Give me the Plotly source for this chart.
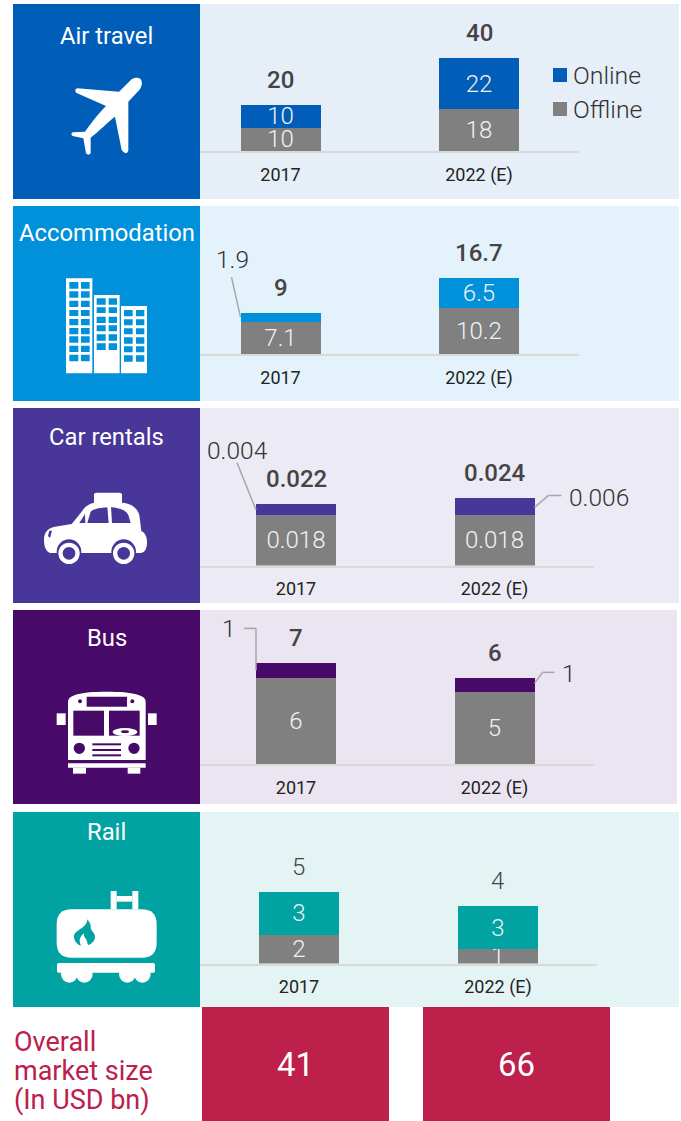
import re
import plotly.graph_objects as go

# ---------- data ----------
categories = ["2017", "2022 (E)"]
sectors = ["Air travel", "Accommodation", "Car rentals", "Bus", "Rail"]
air_online = [10, 22]
air_offline = [10, 18]
air_total = [20, 40]
acc_online = [1.9, 6.5]
acc_offline = [7.1, 10.2]
acc_total = [9, 16.7]
car_online = [0.004, 0.006]
car_offline = [0.018, 0.018]
car_total = [0.022, 0.024]
bus_online = [1, 1]
bus_offline = [6, 5]
bus_total = [7, 6]
rail_online = [3, 3]
rail_offline = [2, 1]
rail_total = [5, 4]
overall_market = [41, 66]
legend_names = ["Online", "Offline"]
overall_title = ["Overall", "market size", "(In USD bn)"]

# ---------- style / layout ----------
W, H = 681, 1121
FONT = "Roboto"
GRAY = "#808080"
TXT = "#333333"
panels = [
    dict(online=air_online, offline=air_offline, total=air_total, color="#005EB8", bg="#E6EEF7",
         top=4, bot=199, right=679, base=151, axis_end=579, c0=280.5, c1=479, ppu=93 / 40, bold=True, head=36),
    dict(online=acc_online, offline=acc_offline, total=acc_total, color="#0091DA", bg="#E3F2FB",
         top=206, bot=401, right=679, base=354, axis_end=579, c0=280.5, c1=479, ppu=76 / 16.7, bold=True, head=233),
    dict(online=car_online, offline=car_offline, total=car_total, color="#483698", bg="#ECEAF4",
         top=408, bot=603, right=679, base=565.5, axis_end=594, c0=296, c1=494.5, ppu=67.5 / 0.024, bold=True, head=437),
    dict(online=bus_online, offline=bus_offline, total=bus_total, color="#470A68", bg="#EAE5F1",
         top=610, bot=804, right=677, base=764, axis_end=594, c0=296, c1=494.5, ppu=14.4, bold=True, head=638),
    dict(online=rail_online, offline=rail_offline, total=rail_total, color="#00A3A1", bg="#E4F4F4",
         top=812, bot=1007, right=679, base=963.5, axis_end=597, c0=299, c1=498, ppu=14.4, bold=False, head=832),
]
# leader lines: (panel, category index, side, cumulative value to anchor on, pixel offsets from anchor, label offset)
leaders = [
    (1, 0, -1, acc_total[0] - 0.9, [(-9, -40), (0, 0)], (-8, -58)),
    (2, 0, -1, car_total[0] - 0.0022, [(-19, -47), (0, 0)], (-19, -59)),
    (2, 1, 1, car_total[1] - 0.003, [(0, 1), (14, -11), (27, -11)], (64, -9)),
    (3, 0, -1, bus_total[0] - 0.5, [(-12, -42), (0, -42), (0, 0)], (-27, -42)),
    (3, 1, 1, bus_total[1] - 0.4, [(0, 0), (8, -11), (20, -11)], (34, -10)),
]


def fnt(size, color, weight=400):
    return dict(family=FONT, size=size, color=color, weight=weight)


shapes, annotations, traces = [], [], []
layout = dict(
    width=W, height=H, margin=dict(l=0, r=0, t=0, b=0, pad=0), autosize=False,
    paper_bgcolor="white", plot_bgcolor="rgba(0,0,0,0)", barmode="stack", showlegend=False,
    xaxis=dict(domain=[0, 1], range=[0, W], visible=False, fixedrange=True),
    yaxis=dict(domain=[0, 1], range=[H, 0], visible=False, fixedrange=True),
)
# an invisible trace keeps the pixel canvas subplot alive beneath the charts
traces.append(go.Scatter(x=[0], y=[0], mode="none", xaxis="x", yaxis="y", hoverinfo="skip"))


def rect(x0, y0, x1, y1, color, layer="below"):
    shapes.append(dict(type="rect", xref="x", yref="y", x0=x0, y0=y0, x1=x1, y1=y1,
                       fillcolor=color, line_width=0, layer=layer))


def circ(cx, cy, r, color, ry=None):
    ry = r if ry is None else ry
    shapes.append(dict(type="circle", xref="x", yref="y", x0=cx - r, y0=cy - ry, x1=cx + r, y1=cy + ry,
                       fillcolor=color, line_width=0, layer="below"))


def path(d, ox, oy, color, evenodd=False):
    """d is written in 3x coordinates of the drawing, relative to (ox, oy)."""
    idx = [0]

    def conv(m):
        v = float(m.group(0)) / 3
        v += ox if idx[0] % 2 == 0 else oy
        idx[0] += 1
        return f"{v:.2f}"

    s = re.sub(r"-?\d+\.?\d*", conv, d)
    shapes.append(dict(type="path", xref="x", yref="y", path=s, fillcolor=color, line_width=0, layer="below",
                       fillrule="evenodd" if evenodd else "nonzero"))


def zr(x0, y0, x1, y1, ox, oy, color):
    rect(ox + x0 / 3, oy + y0 / 3, ox + x1 / 3, oy + y1 / 3, color)


def zc(cx, cy, r, ox, oy, color, ry=None):
    circ(ox + cx / 3, oy + cy / 3, r / 3, color, None if ry is None else ry / 3)


# ---------- panels ----------
for i, p in enumerate(panels):
    rect(13, p["top"], 200, p["bot"], p["color"])
    rect(200, p["top"], p["right"], p["bot"], p["bg"])
    annotations.append(dict(xref="x", yref="y", x=106.5, y=p["head"], text=sectors[i], showarrow=False,
                            xanchor="center", yanchor="middle", font=fnt(23.8, "white")))

    ax = i + 2
    spacing = p["c1"] - p["c0"]
    barw = 80 / spacing
    xr = [(200 - p["c0"]) / spacing, (p["axis_end"] - p["c0"]) / spacing]
    ymax = (p["base"] - p["top"]) / p["ppu"]
    layout[f"xaxis{ax}"] = dict(
        domain=[200 / W, p["axis_end"] / W], range=xr, anchor=f"y{ax}", type="category",
        categoryorder="array", categoryarray=categories, fixedrange=True,
        showgrid=False, zeroline=False, showline=True, linecolor="#D9D9D9", linewidth=2,
        ticks="outside", ticklen=6, tickcolor="rgba(0,0,0,0)", tickfont=fnt(18, "#222222"),
    )
    layout[f"yaxis{ax}"] = dict(domain=[1 - p["base"] / H, 1 - p["top"] / H], range=[0, ymax], anchor=f"x{ax}",
                                visible=False, fixedrange=True)
    hidden = {l[1] for l in leaders if l[0] == i}
    on_text = ["" if j in hidden else f"{v:g}" for j, v in enumerate(p["online"])]
    off_text = [f"{v:g}" for v in p["offline"]]
    for name, vals, txt, col in ((legend_names[1], p["offline"], off_text, GRAY),
                                 (legend_names[0], p["online"], on_text, p["color"])):
        traces.append(go.Bar(x=categories, y=vals, name=name, width=barw, marker=dict(color=col, line_width=0),
                             text=txt, textposition="inside", insidetextanchor="middle", textangle=0,
                             constraintext="none", insidetextfont=fnt(24, "#F2F2F2", 300),
                             xaxis=f"x{ax}", yaxis=f"y{ax}", cliponaxis=False))
    for j, t in enumerate(p["total"]):
        annotations.append(dict(xref=f"x{ax}", yref=f"y{ax}", x=j, y=t, text=f"{t:g}", showarrow=False,
                                xanchor="center", yanchor="middle", yshift=25,
                                xshift=0 if p["bold"] else -1,
                                font=fnt(24, "#444444", 500 if p["bold"] else 300)))

for (pi, cat, side, val, pts, lab) in leaders:
    ax = pi + 2
    p = panels[pi]
    spacing = p["c1"] - p["c0"]
    xa = cat + side * 40 / spacing
    for (a, b) in zip(pts[:-1], pts[1:]):
        shapes.append(dict(type="line", xref=f"x{ax}", yref=f"y{ax}", xsizemode="pixel", ysizemode="pixel",
                           xanchor=xa, yanchor=val, x0=a[0], y0=-a[1], x1=b[0], y1=-b[1],
                           line=dict(color="#A6A6A6", width=1.5), layer="above"))
    annotations.append(dict(xref=f"x{ax}", yref=f"y{ax}", x=xa, y=val, text=f"{p['online'][cat]:g}", showarrow=False,
                            xanchor="center", yanchor="middle", xshift=lab[0], yshift=-lab[1],
                            font=fnt(24.5, TXT, 300)))

# ---------- legend ----------
for name, col, yy in ((legend_names[0], panels[0]["color"], 75), (legend_names[1], GRAY, 109)):
    rect(553, yy - 7, 567, yy + 7, col, layer="above")
    annotations.append(dict(xref="x", yref="y", x=571, y=yy, text=name, showarrow=False, xanchor="left",
                            yanchor="middle", font=fnt(24.8, TXT, 300)))

# ---------- overall row ----------
for j, (x0, x1) in enumerate(((202, 389), (423, 610))):
    rect(x0, 1007, x1, 1121, "#BC204B")
    annotations.append(dict(xref="x", yref="y", x=(x0 + x1) / 2, y=1064, text=str(overall_market[j]), showarrow=False,
                            xanchor="center", yanchor="middle", font=fnt(33, "white")))
for line, yy in zip(overall_title, (1042, 1071, 1100)):
    annotations.append(dict(xref="x", yref="y", x=12, y=yy, text=line, showarrow=False, xanchor="left",
                            yanchor="middle", font=fnt(27, "#BC204B")))

# ---------- icons ----------
# plane
path("M425 245C425 232 405 230 395 238L357 275L232 265Q222 268 228 278L318 318C295 340 270 375 255 395"
     "L218 397Q210 403 218 408L250 415L258 460Q265 468 272 460L272 413C295 395 325 365 345 350L365 450"
     "Q378 468 385 452L385 305L418 270Q428 255 425 245Z", 0, 0, "white")


# buildings
def tower(x0, y0, x1, y1, cols, rows):
    d = f"M{x0} {y0}L{x1} {y0}L{x1} {y1}L{x0} {y1}Z"
    for (a, b) in cols:
        for (c, e) in rows:
            d += f"M{a} {c}L{b} {c}L{b} {e}L{a} {e}Z"
    path(d, 0, 0, "white", evenodd=True)


tower(198, 835, 277, 1120, [(208, 235), (243, 269)],
      [(846, 866), (874, 893), (902, 921), (930, 948), (957, 976), (984, 1003), (1009, 1028), (1037, 1056), (1064, 1084)])
tower(282, 885, 359, 1120, [(290, 317), (326, 351)],
      [(895, 914), (922, 939), (950, 969), (976, 994), (1003, 1022), (1030, 1050)])
tower(363, 918, 441, 1120, [(372, 398), (408, 433)],
      [(930, 949), (958, 976), (985, 1003), (1012, 1031), (1039, 1057), (1066, 1085)])

# taxi
PUR = panels[2]["color"]
path("M132 420C132 400 140 385 165 380L215 372L245 335C255 318 270 310 282 308L282 285Q282 278 290 278L358 278"
     "Q366 278 366 285L366 308C395 310 412 325 418 345L424 393C435 398 442 410 441 430C440 450 432 460 420 459"
     "L150 459C138 455 132 440 132 420Z", 0, 400, "white")
path("M238 369L255 342L256 369Z", 0, 400, PUR)
path("M262 369L272 335Q280 325 322 322L326 369Z", 0, 400, PUR)
path("M333 322Q375 325 385 345L392 369L336 369Z", 0, 400, PUR)
path("M148 392L156 392L150 414L144 408Z", 0, 400, PUR)
for cx in (207, 371):
    zc(cx, 455, 37, 0, 400, PUR)
    zc(cx, 460, 32, 0, 400, "white")
    zc(cx, 460, 19, 0, 400, PUR)

# bus
DPU = panels[3]["color"]
path("M204 905C204 885 240 875 320 875C400 875 437 885 437 905L437 1080L204 1080Z", 0, 400, "white")
zr(170, 940, 197, 975, 0, 400, "white")
zr(444, 940, 470, 975, 0, 400, "white")
zr(260, 890, 381, 920, 0, 400, DPU)
zc(240, 904, 6, 0, 400, DPU)
zc(397, 904, 6, 0, 400, DPU)
zr(220, 932, 312, 1007, 0, 400, DPU)
zr(327, 932, 419, 1007, 0, 400, DPU)
zc(375, 996, 37, 0, 400, "white", ry=12)
zc(375, 995, 12, 0, 400, DPU, ry=4)
zc(238, 1045, 17, 0, 400, DPU)
zc(402, 1045, 17, 0, 400, DPU)
for y0 in (1030, 1047, 1063):
    zr(277, y0, 363, y0 + 6, 0, 400, DPU)
zr(204, 1090, 437, 1103, 0, 400, "white")
zr(219, 1103, 258, 1121, 0, 400, "white")
zr(383, 1103, 421, 1121, 0, 400, "white")

# rail tanker
TEAL = panels[4]["color"]
path("M215 313L425 313Q470 313 470 358L470 413Q470 458 425 458L215 458Q170 458 170 413L170 358Q170 313 215 313Z",
     0, 805, "white")
zr(332, 258, 350, 313, 0, 805, "white")
zr(397, 258, 415, 313, 0, 805, "white")
zr(350, 273, 397, 290, 0, 805, "white")
path("M262 343C262 370 222 375 222 395C222 408 232 418 243 422C235 405 240 395 252 385C250 400 262 400 262 415"
     "L265 420C278 415 285 405 285 395C285 380 270 380 272 360Q268 350 262 343Z", 0, 805, TEAL)
path("M176 474L460 474Q465 474 465 479L465 498Q465 503 460 503L176 503Q171 503 171 498L171 479Q171 474 176 474Z",
     0, 805, "white")
for cx in (208, 253, 382, 427):
    zc(cx, 508, 25, 0, 805, "white")

layout["shapes"] = shapes
layout["annotations"] = annotations
fig = go.Figure(data=traces, layout=layout)
fig.write_html("out.html", config=dict(displayModeBar=False),
               post_script="document.body.style.margin='0';document.documentElement.style.overflow='hidden';")
